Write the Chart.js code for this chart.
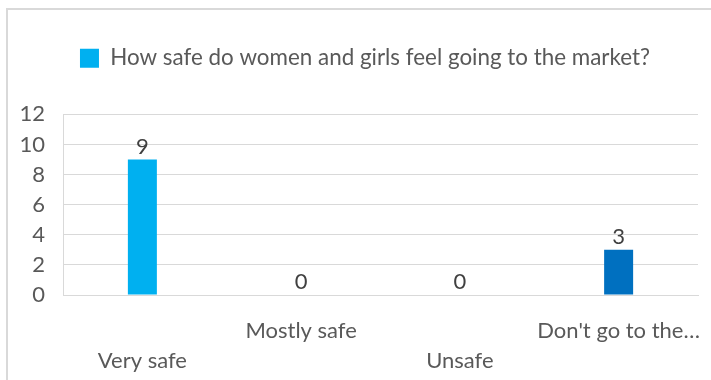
<!DOCTYPE html>
<html>
<head>
<meta charset="utf-8">
<title>Market safety</title>
<script src="https://cdn.jsdelivr.net/npm/chart.js@4.4.1/dist/chart.umd.min.js"></script>
<style>
  html, body { margin: 0; padding: 0; background: #fff; }
  .frame {
    position: absolute; left: 6px; top: 8px; width: 760px; height: 420px;
    border-left: 2px solid #d9d9d9; border-top: 2px solid #d9d9d9;
  }
  .wrap { position: absolute; left: 0; top: 0; width: 711px; height: 380px; }
</style>
</head>
<body>
<div class="frame"></div>
<div class="wrap"><canvas id="marketChart"></canvas></div>
<script>
// Survey answers and counts
const categories = [['', 'Very safe'], ['Mostly safe'], ['', 'Unsafe'], ["Don't go to the\u2026"]];
const counts     = [9, 0, 0, 3];
const barColors  = ['#00B0F0', '#00B0F0', '#00B0F0', '#0070C0'];
const seriesName = 'How safe do women and girls feel going to the market?';
const yTicks     = { min: 0, max: 12, step: 2 };

const FONT = 'Lato, "Open Sans", sans-serif';
const SIZE = 22;
const TEXT = '#595959';
const GRID = '#d9d9d9';

// value written above each bar
const valueLabels = {
  id: 'valueLabels',
  afterDatasetsDraw(chart) {
    const ctx = chart.ctx;
    const meta = chart.getDatasetMeta(0);
    ctx.save();
    ctx.font = SIZE + 'px ' + FONT;
    ctx.fillStyle = '#404040';
    ctx.textAlign = 'center';
    ctx.textBaseline = 'alphabetic';
    meta.data.forEach((bar, i) => {
      ctx.fillText(String(chart.data.datasets[0].data[i]), bar.x, bar.y - 6);
    });
    ctx.restore();
  }
};

// legend sits a little right of centre and leaves a gap above the plot
const legendSpacing = {
  id: 'legendSpacing',
  beforeLayout(chart) {
    const lg = chart.legend;
    if (lg && !lg._spaced) {
      const fit = lg.fit;
      lg.fit = function () { fit.call(this); this.height += 35; };
      lg._spaced = true;
    }
  },
  afterLayout(chart) {
    chart.legend.left += 16;
    chart.legend.right += 16;
  }
};

new Chart(document.getElementById('marketChart'), {
  type: 'bar',
  data: {
    labels: categories,
    datasets: [{
      label: seriesName,
      data: counts,
      backgroundColor: c => barColors[c.dataIndex] || barColors[0],
      barThickness: 29,
      inflateAmount: 0,
    }]
  },
  options: {
    responsive: true,
    maintainAspectRatio: false,
    animation: false,
    layout: { padding: { top: 10, right: 13, left: 0, bottom: 0 } },
    plugins: {
      legend: {
        position: 'top',
        labels: {
          boxWidth: 19,
          boxHeight: 19,
          padding: 37,
          color: TEXT,
          font: { family: FONT, size: 22.4 }
        }
      },
      tooltip: { enabled: false }
    },
    scales: {
      x: {
        grid: { display: false },
        border: { color: GRID },
        ticks: {
          autoSkip: false,
          maxRotation: 0,
          padding: 13,
          color: TEXT,
          font: { family: FONT, size: SIZE, lineHeight: 30 / SIZE }
        },
        afterFit: s => {
          s.height = 85;
          s.paddingLeft = 0;
          s.paddingRight = 0;
        }
      },
      y: {
        min: yTicks.min,
        max: yTicks.max,
        grid: { color: GRID, drawTicks: false },
        border: { color: GRID },
        ticks: {
          stepSize: yTicks.step,
          autoSkip: false,
          padding: 18,
          color: TEXT,
          font: { family: FONT, size: SIZE }
        },
        afterFit: s => { s.width = 63; }
      }
    }
  },
  plugins: [valueLabels, legendSpacing]
});
</script>
</body>
</html>
